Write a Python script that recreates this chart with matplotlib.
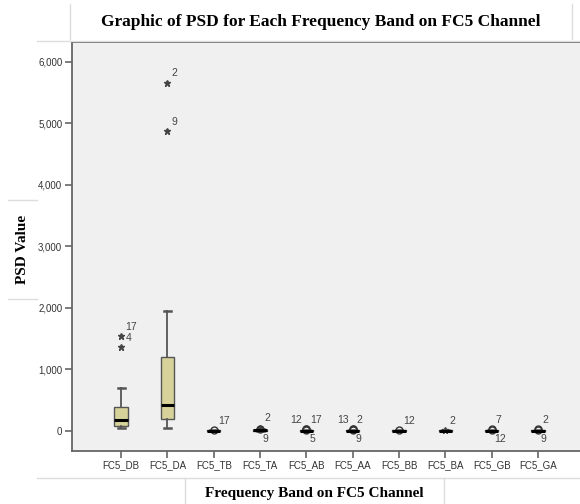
import matplotlib
matplotlib.use("Agg")
import matplotlib.pyplot as plt
from matplotlib.lines import Line2D

# box statistics
bands = ["FC5_DB", "FC5_DA", "FC5_TB", "FC5_TA", "FC5_AB",
         "FC5_AA", "FC5_BB", "FC5_BA", "FC5_GB", "FC5_GA"]
whislo = [49, 49, 0, 0, 0, 0, 0, 0, 0, 0]
q1 = [81, 195, 1, 2, 1, 1, 1, 1, 1, 1]
med = [174, 413, 3, 5, 3, 3, 2, 2, 3, 3]
q3 = [380, 1203, 5, 10, 6, 6, 4, 4, 6, 6]
whishi = [689, 1946, 10, 25, 12, 12, 8, 8, 12, 12]

# outliers: band index, value, case label, marker kind, label side
out_band = [0, 0, 1, 1, 2, 3, 3, 4, 4, 4, 5, 5, 5, 6, 7, 8, 8, 9, 9]
out_value = [1540, 1366, 5659, 4878, 15, 50, 20, 20, 25, 15, 25, 20, 15, 15, 15, 20, 15, 20, 15]
out_label = ["17", "4", "2", "9", "17", "2", "9", "12", "17", "5",
             "13", "2", "9", "12", "2", "7", "12", "2", "9"]
out_kind = ["*", "*", "*", "*", "o", "*", "o", "o", "o", "o",
            "o", "o", "o", "o", "*", "o", "o", "o", "o"]
out_side = ["ur", "ur", "ur", "ur", "ur", "ur", "lr", "ul", "ur", "lr",
            "ul", "ur", "lr", "ur", "ur", "ur", "lr", "ur", "lr"]

fig = plt.figure(figsize=(5.8, 5.04), dpi=100)
ax = fig.add_axes([72 / 580, 1 - 450.7 / 504, 516 / 580, (450.7 - 41.75) / 504])
ax.set_facecolor("#F0F0F0")

stats = []
for i in range(len(bands)):
    stats.append(dict(whislo=whislo[i], q1=q1[i], med=med[i], q3=q3[i],
                      whishi=whishi[i], fliers=[], label=bands[i]))

edge = "#555555"
ax.bxp(stats, positions=range(1, len(bands) + 1), widths=0.29,
       showfliers=False, patch_artist=True,
       boxprops=dict(facecolor="#D6D29A", edgecolor=edge, linewidth=1.0),
       medianprops=dict(color="black", linewidth=2.2),
       whiskerprops=dict(color=edge, linewidth=1.3),
       capprops=dict(color=edge, linewidth=1.8),
       capwidths=0.15)

offsets = {"ur": (3, 3, "left", "bottom"), "lr": (2, -3, "left", "top"),
           "ul": (-3, 3, "right", "bottom")}
for b, v, lab, k, s in zip(out_band, out_value, out_label, out_kind, out_side):
    if k == "*":
        ax.plot(b + 1, v, marker="*", color="#444444", markersize=5,
                linestyle="none")
    else:
        ax.plot(b + 1, v, marker="o", markerfacecolor="none",
                markeredgecolor="#333333", markersize=5, linestyle="none")
    dx, dy, ha, va = offsets[s]
    ax.annotate(lab, (b + 1, v), xytext=(dx, dy), textcoords="offset points",
                ha=ha, va=va, fontsize=7.5, color="#444444",
                family="Liberation Sans")

ax.set_xlim(-0.06, 11.08)
ax.set_ylim(-325, 6324)
ax.set_yticks([0, 1000, 2000, 3000, 4000, 5000, 6000])
ax.set_yticklabels(["0", "1,000", "2,000", "3,000", "4,000", "5,000", "6,000"])
ax.set_xticks(range(1, len(bands) + 1))
ax.set_xticklabels(bands)
for sp in ax.spines.values():
    sp.set_color("#666666")
    sp.set_linewidth(1.3)
ax.tick_params(axis="both", colors="#666666", labelcolor="#333333",
               labelsize=7, length=5, width=1.2, pad=2)
for t in ax.get_xticklabels() + ax.get_yticklabels():
    t.set_family("Liberation Sans")

# title, axis-label boxes
serif = "Liberation Serif"
fig.text(321 / 580, 1 - 22 / 504, "Graphic of PSD for Each Frequency Band on FC5 Channel",
         ha="center", va="center", fontsize=12.5, fontweight="bold", family=serif)
fig.text(23 / 580, 1 - 249 / 504, "PSD Value", rotation=90, ha="center", va="center",
         fontsize=11, fontweight="bold", family=serif)
fig.text(314.5 / 580, 1 - 493 / 504, "Frequency Band on FC5 Channel",
         ha="center", va="center", fontsize=11, fontweight="bold", family=serif)

light = "#DDDDDD"
def fline(x0, y0, x1, y1):
    fig.add_artist(Line2D([x0 / 580, x1 / 580], [1 - y0 / 504, 1 - y1 / 504],
                          color=light, linewidth=1.0))

fline(37, 40.5, 580, 40.5)
fline(69.5, 4, 69.5, 39)
fline(571.5, 4, 571.5, 39)
fline(8, 200.5, 37, 200.5)
fline(8, 299, 37, 299)
fline(37, 478, 580, 478)
fline(185, 478, 185, 504)
fline(444, 478, 444, 504)

fig.savefig("out.png", dpi=100)
